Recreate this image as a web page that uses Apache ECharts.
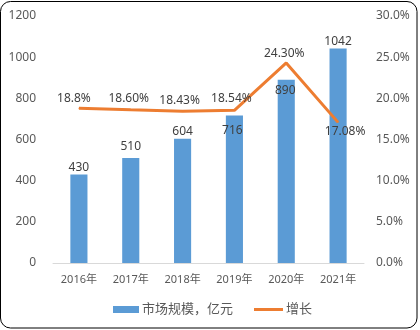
<!DOCTYPE html>
<html>
<head>
<meta charset="utf-8">
<script src="https://cdn.jsdelivr.net/npm/echarts@6/dist/echarts.min.js"></script>
<style>
  html, body { margin: 0; padding: 0; background: #fff; }
  #chart { width: 420px; height: 330px; }
</style>
</head>
<body>
<div id="chart"></div>
<script>
// Market size (100M yuan) and year-on-year growth
const years = ['2016年', '2017年', '2018年', '2019年', '2020年', '2021年'];
const marketSize = [430, 510, 604, 716, 890, 1042];
const growthText = ['18.8', '18.60', '18.43', '18.54', '24.30', '17.08'];
const growth = growthText.map(Number);
const leftTicks = { min: 0, max: 1200, interval: 200 };
const rightTicks = { min: 0, max: 30, interval: 5 };

const FONT = '"Noto Sans", "Noto Sans CJK SC", sans-serif';

// per-bar label placement (some sit inside the bar to clear the line)
const barLabelPos = [
  { position: 'top', distance: 1 },
  { position: 'top', distance: 5 },
  { position: 'top', distance: 1 },
  { position: 'insideTop', distance: 5, offset: [-2, 4] },
  { position: 'insideTop', distance: 5, offset: [-1, 0] },
  { position: 'top', distance: 1 }
];
// per-point label placement for the growth line
const lineLabelPos = [
  { position: 'top', offset: [-5, 2] },
  { position: 'top', offset: [-2, 0] },
  { position: 'top', offset: [-3, 1] },
  { position: 'top', offset: [-3, 0] },
  { position: 'top', offset: [-2, 2] },
  { position: 'bottom', offset: [7, -2] }
];

const legendText = { color: '#595959', fontSize: 13, fontFamily: FONT, padding: [0, 0, 0, -2] };

const chart = echarts.init(document.getElementById('chart'));
chart.setOption({
  animation: false,
  textStyle: { fontFamily: FONT },
  graphic: [{
    type: 'rect',
    shape: { x: 0.5, y: 1.5, width: 416.5, height: 326.5, r: 10 },
    style: { fill: 'none', stroke: '#000', lineWidth: 1 },
    silent: true,
    z: 100
  }],
  grid: { left: 53, right: 56, top: 16, bottom: 67 },
  legend: [
    {
      top: 298, left: 108,
      itemWidth: 26, itemHeight: 7,
      textStyle: legendText,
      data: [{ name: '市场规模，亿元', icon: 'rect' }]
    },
    {
      top: 298, left: 249,
      itemWidth: 29, itemHeight: 3,
      textStyle: legendText,
      data: [{ name: '增长', icon: 'rect' }]
    }
  ],
  xAxis: {
    type: 'category',
    data: years,
    axisLine: { lineStyle: { color: '#D9D9D9', width: 1 } },
    axisTick: { show: false },
    axisLabel: { color: '#595959', fontSize: 11, margin: 11, fontFamily: FONT }
  },
  yAxis: [
    {
      type: 'value',
      min: leftTicks.min, max: leftTicks.max, interval: leftTicks.interval,
      axisLine: { show: false },
      axisTick: { show: false },
      splitLine: { show: false },
      axisLabel: {
        color: '#595959', fontSize: 12, margin: 17, fontFamily: FONT,
        formatter: v => String(v)
      }
    },
    {
      type: 'value',
      min: rightTicks.min, max: rightTicks.max, interval: rightTicks.interval,
      axisLine: { show: false },
      axisTick: { show: false },
      splitLine: { show: false },
      axisLabel: {
        color: '#595959', fontSize: 12, margin: 12, fontFamily: FONT,
        formatter: v => v.toFixed(1) + '%'
      }
    }
  ],
  series: [
    {
      name: '市场规模，亿元',
      type: 'bar',
      barWidth: '33%',
      itemStyle: { color: '#5B9BD5' },
      data: marketSize.map((v, i) => ({
        value: v,
        label: Object.assign({
          show: true, color: '#404040', fontSize: 12, fontFamily: FONT
        }, barLabelPos[i])
      }))
    },
    {
      name: '增长',
      type: 'line',
      yAxisIndex: 1,
      symbol: 'circle',
      symbolSize: 1,
      showSymbol: true,
      lineStyle: { color: '#ED7D31', width: 3 },
      itemStyle: { color: '#ED7D31' },
      z: 3,
      data: growth.map((v, i) => ({
        value: v,
        label: Object.assign({
          show: true, color: '#404040', fontSize: 12, fontFamily: FONT,
          distance: 5,
          formatter: () => growthText[i] + '%'
        }, lineLabelPos[i])
      }))
    }
  ]
});
</script>
</body>
</html>
